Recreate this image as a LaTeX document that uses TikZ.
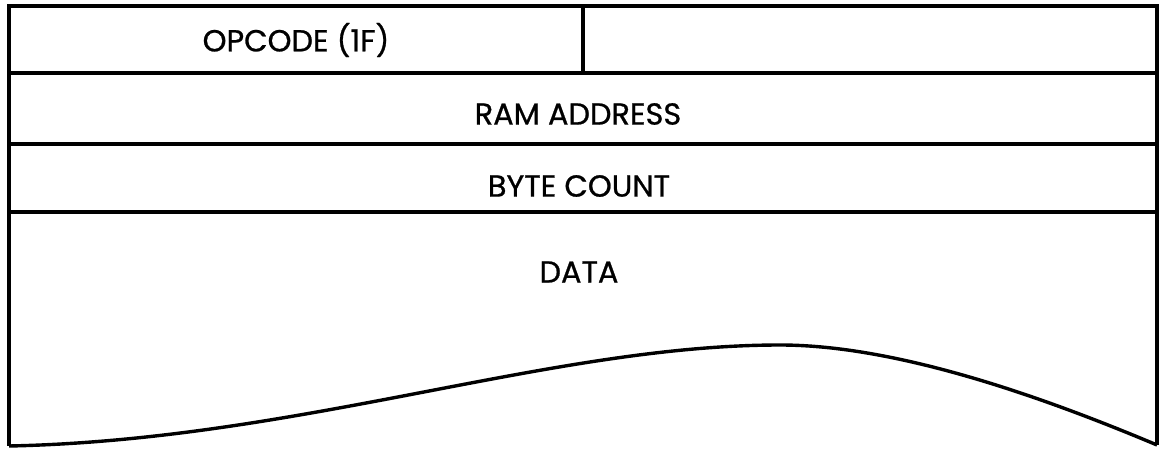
\documentclass[tikz,border=0pt]{standalone}
\usepackage{fontspec}
\setmainfont{Poppins}
\newfontfamily\fieldfont[FakeBold=0.8]{Poppins}
\usetikzlibrary{calc}
\begin{document}
\begin{tikzpicture}[x=0.5pt,y=-0.5pt,line width=1.7pt]
  \tikzset{field/.style={font=\fieldfont\fontsize{15.2}{17}\selectfont,inner sep=0pt}}
  \useasboundingbox (0,0) rectangle (1162,449);
  \draw (1157,445)--(1157,6)--(9,6)--(9,446);
  \draw (9,73)--(1157,73);
  \draw (9,144)--(1157,144);
  \draw (9,212)--(1157,212);
  \draw (583,6)--(583,73);
  \draw (9,446) .. controls (300,440) and (550,345) .. (780,345)
    .. controls (900,345) and (1050,400) .. (1157,445);
  \node[field] (opcode) at (296,40) {OPCODE (1F)};
  \node[field] (ram) at (578,114) {RAM ADDRESS};
  \node[field] (count) at (579,186) {BYTE COUNT};
  \node[field] (data) at (579,272) {DATA};
\end{tikzpicture}
\end{document}
